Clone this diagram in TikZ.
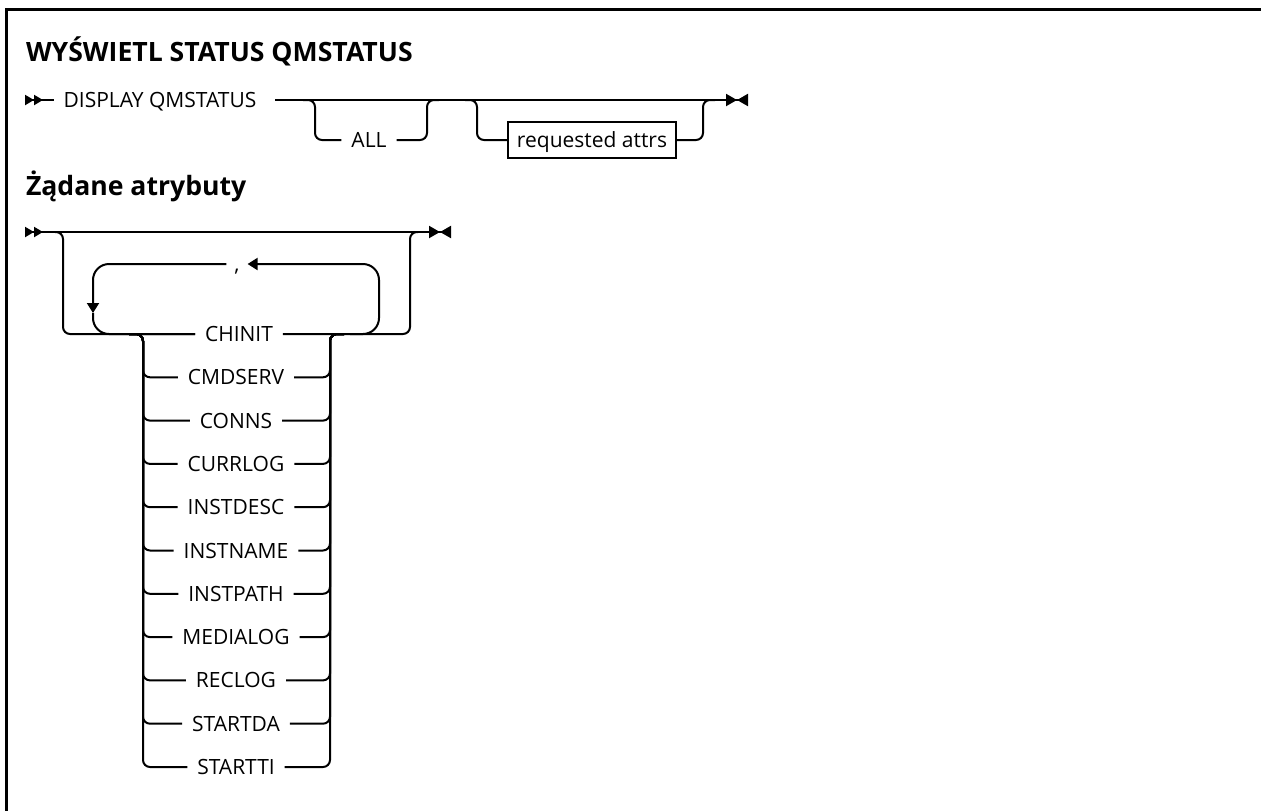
\documentclass[tikz,border=0pt]{standalone}
\usepackage{fontspec}
\setmainfont{Open Sans}
\usetikzlibrary{arrows.meta}

\tikzset{
  railin/.tip={Triangle[reversed,length=4.5pt,width=5pt] Triangle[reversed,length=4.5pt,width=5pt]},
  railout/.tip={Triangle[length=5.5pt,width=6pt] Triangle[reversed,length=5.5pt,width=6pt]},
  railarrow/.tip={Triangle[length=5pt,width=6pt]}
}

\begin{document}
\begin{tikzpicture}[x=0.5pt,y=-0.5pt,line width=1pt,
    railtext/.style={inner xsep=4.5pt,inner ysep=0pt,text height=7.5pt,text depth=0pt,
      font=\fontsize{10.5}{12}\selectfont},
    railbox/.style={railtext,draw,minimum height=18pt,minimum width=84pt,inner xsep=4pt},
    heading/.style={anchor=base west,inner sep=0pt,font=\fontsize{13.3}{15}\selectfont\bfseries},
    railbranch/.style={rounded corners=3.5pt},
    repeatline/.style={rounded corners=8pt}]
    \path[use as bounding box,fill=white] (0,0) rectangle (1261,810);
    \draw[line width=1.5pt] (1265,9) -| (6,815);

    \node[heading] (title1) at (25,61) {WYŚWIETL STATUS QMSTATUS};
    \node[heading] (title2) at (25,195) {Żądane atrybuty};

    \coordinate (s1) at (25,100);
    \node[railtext] (disp) at (160,100) {DISPLAY QMSTATUS};
    \coordinate (d1) at (275,100);
    \coordinate (e1) at (748,100);
    \coordinate (a1) at (303,100);
    \coordinate (a2) at (439,100);
    \node[railtext] (all) at (369,140) {ALL};
    \coordinate (b1) at (465,100);
    \coordinate (b2) at (715,100);
    \node[railbox] (req) at (592,140) {requested attrs};

    \draw[railin-] (s1) -- (disp);
    \draw[-railout] (d1) -- (e1);
    \draw[railbranch] (a1) -| (315,140) -- (all);
    \draw[railbranch] (all) -- (427,140) |- (a2);
    \draw[railbranch] (b1) -| (477,140) -- (req);
    \draw[railbranch] (req) -- (703,140) |- (b2);

    \coordinate (s2) at (25,232);
    \coordinate (e2) at (451,232);
    \coordinate (c1) at (55,232);
    \coordinate (c2) at (418,232);
    \coordinate (l1) at (350,334);
    \coordinate (dn) at (93,313);
    \coordinate (j1) at (129,334);
    \coordinate (j2) at (344,334);
    \node[railtext,inner xsep=3.5pt] (comma) at (237,264) {,};
    \node[railtext] (chinit) at (239,334) {CHINIT};
    \node[railtext] (cmdserv) at (236,377.3) {CMDSERV};
    \node[railtext] (conns) at (236,420.6) {CONNS};
    \node[railtext] (currlog) at (236,463.9) {CURRLOG};
    \node[railtext] (instdesc) at (236,507.2) {INSTDESC};
    \node[railtext] (instname) at (236,550.5) {INSTNAME};
    \node[railtext] (instpath) at (236,593.8) {INSTPATH};
    \node[railtext] (medialog) at (236,637.1) {MEDIALOG};
    \node[railtext] (reclog) at (236,680.4) {RECLOG};
    \node[railtext] (startda) at (236,723.7) {STARTDA};
    \node[railtext] (startti) at (236,767) {STARTTI};

    \draw[railin-railout] (s2) -- (e2);
    \draw[railbranch] (c1) -| (63,334) -- (chinit);
    \draw[railbranch] (chinit) -- (410,334) |- (c2);
    \draw[repeatline,-railarrow] (l1) -| (379,264) -- (comma);
    \draw[repeatline,-railarrow] (comma) -| (dn);
    \draw[repeatline] (dn) |- (chinit);

    \draw[railbranch] (j1) -| (143,377.3) -- (cmdserv);
    \draw[railbranch] (cmdserv) -- (330,377.3) |- (j2);
    \draw[railbranch] (j1) -| (143,420.6) -- (conns);
    \draw[railbranch] (conns) -- (330,420.6) |- (j2);
    \draw[railbranch] (j1) -| (143,463.9) -- (currlog);
    \draw[railbranch] (currlog) -- (330,463.9) |- (j2);
    \draw[railbranch] (j1) -| (143,507.2) -- (instdesc);
    \draw[railbranch] (instdesc) -- (330,507.2) |- (j2);
    \draw[railbranch] (j1) -| (143,550.5) -- (instname);
    \draw[railbranch] (instname) -- (330,550.5) |- (j2);
    \draw[railbranch] (j1) -| (143,593.8) -- (instpath);
    \draw[railbranch] (instpath) -- (330,593.8) |- (j2);
    \draw[railbranch] (j1) -| (143,637.1) -- (medialog);
    \draw[railbranch] (medialog) -- (330,637.1) |- (j2);
    \draw[railbranch] (j1) -| (143,680.4) -- (reclog);
    \draw[railbranch] (reclog) -- (330,680.4) |- (j2);
    \draw[railbranch] (j1) -| (143,723.7) -- (startda);
    \draw[railbranch] (startda) -- (330,723.7) |- (j2);
    \draw[railbranch] (j1) -| (143,767) -- (startti);
    \draw[railbranch] (startti) -- (330,767) |- (j2);
\end{tikzpicture}
\end{document}
